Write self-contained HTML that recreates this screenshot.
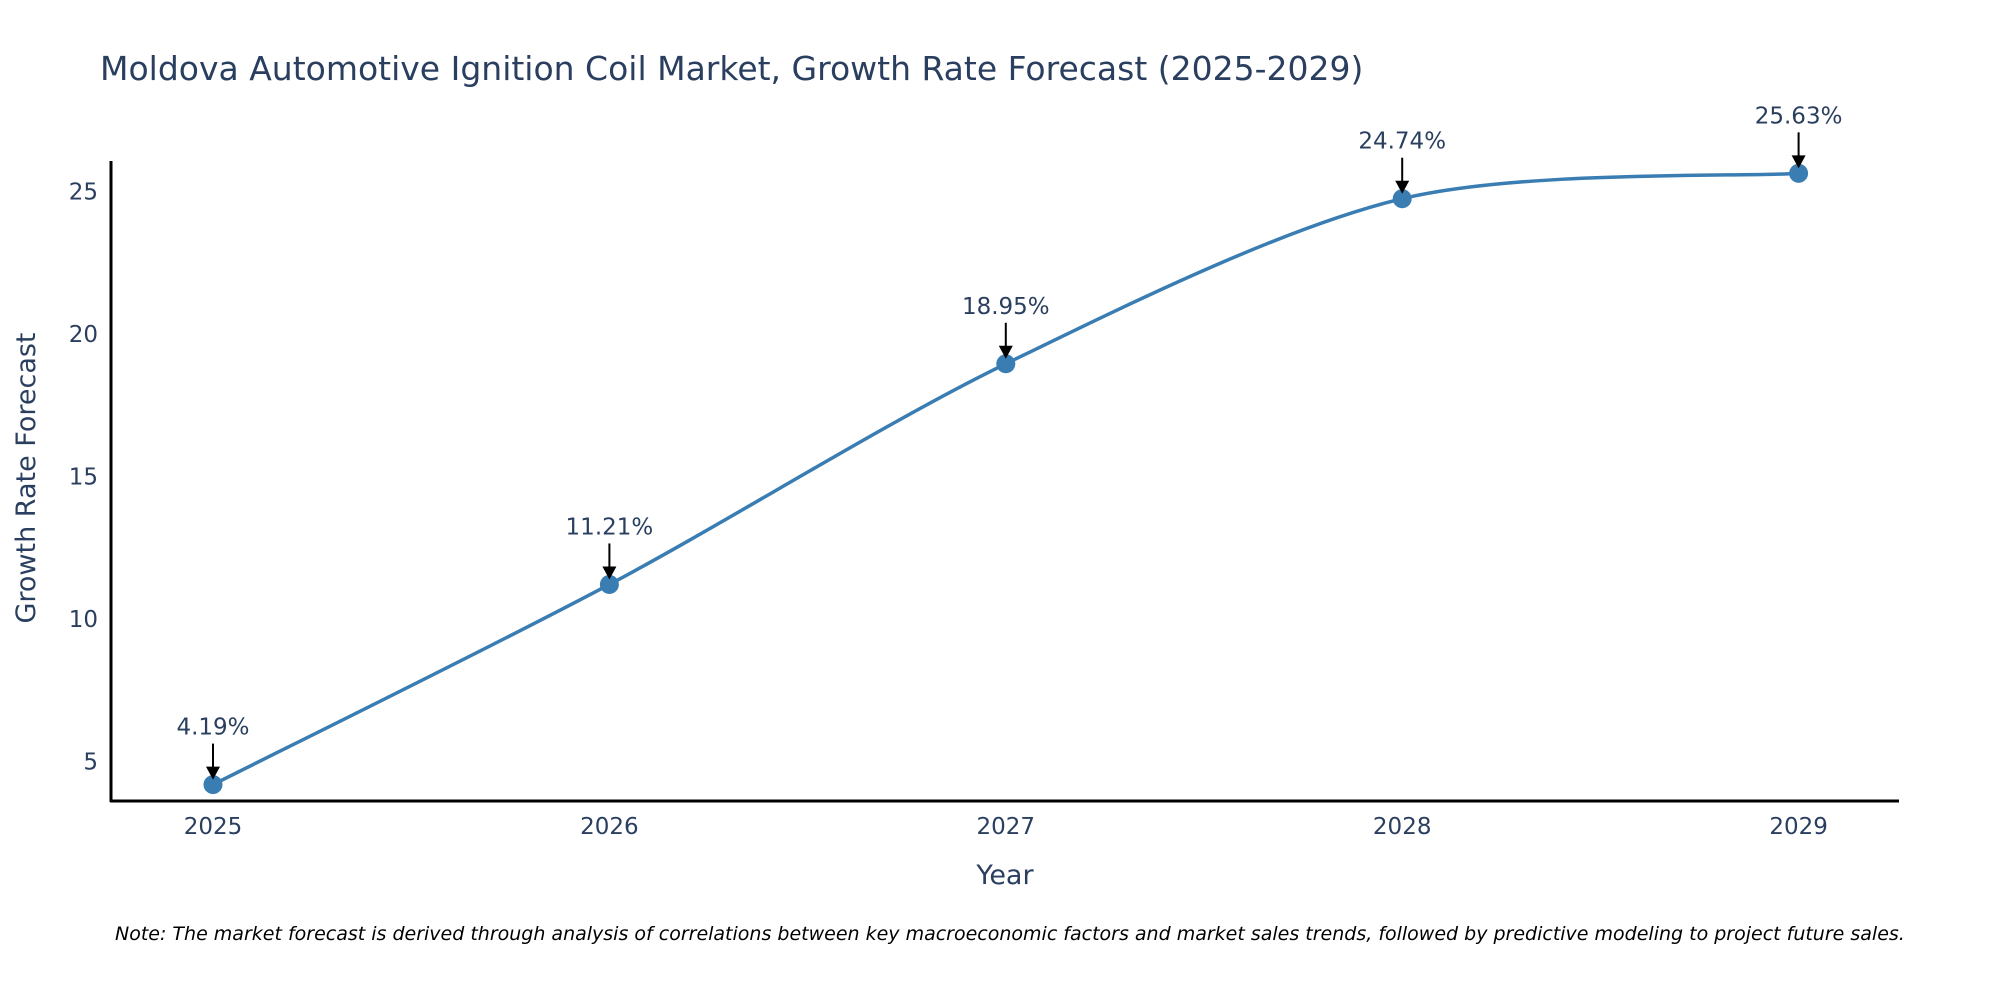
<!DOCTYPE html>
<html><head><meta charset="utf-8"><style>
html,body{margin:0;padding:0;background:#fff;}
svg{display:block;font-family:"DejaVu Sans","Liberation Sans",sans-serif;}
</style></head><body>
<svg id="chart" width="2000" height="1000" viewBox="0 0 2000 1000">
<text x="100" y="80" font-size="33" fill="#2a3f5f">Moldova Automotive Ignition Coil Market, Growth Rate Forecast (2025-2029)</text>
<g id="yticks"></g><g id="xticks"></g>
<line x1="111" y1="161" x2="111" y2="802" stroke="#000" stroke-width="3"/>
<line x1="110" y1="801" x2="1899" y2="801" stroke="#000" stroke-width="3"/>
<path id="line" fill="none" stroke="#3a7db3" stroke-width="3.5"/>
<g id="marks"></g>
<text transform="translate(35,478) rotate(-90)" text-anchor="middle" font-size="27" fill="#2a3f5f">Growth Rate Forecast</text>
<text x="1005" y="884" text-anchor="middle" font-size="27" fill="#2a3f5f">Year</text>
<text x="115" y="940" font-size="19" font-style="italic" fill="#000">Note: The market forecast is derived through analysis of correlations between key macroeconomic factors and market sales trends, followed by predictive modeling to project future sales.</text>
</svg>
<script>
const years = ["2025","2026","2027","2028","2029"];
const values = [4.19, 11.21, 18.95, 24.74, 25.63];
const labels = ["4.19%","11.21%","18.95%","24.74%","25.63%"];
const yTickValues = [5,10,15,20,25];
const NS="http://www.w3.org/2000/svg";
function xs(i){return 213+i*396.4;}
function ys(v){return 761.5-(v-5)*28.51;}
function mk(tag,attrs,parent){const e=document.createElementNS(NS,tag);for(const k in attrs)e.setAttribute(k,attrs[k]);parent.appendChild(e);return e;}
const yt=document.getElementById('yticks'), xt=document.getElementById('xticks'), marks=document.getElementById('marks');
yTickValues.forEach(v=>{
  const t=mk('text',{x:98,y:ys(v)+8,'text-anchor':'end','font-size':23,fill:'#2a3f5f'},yt);
  t.textContent=v;
  
  
});
years.forEach((y,i)=>{
  const t=mk('text',{x:xs(i),y:834,'text-anchor':'middle','font-size':23,fill:'#2a3f5f'},xt);
  t.textContent=y;
  
  
});
const pts=values.map((v,i)=>[xs(i),ys(v)]);
let d='M'+pts[0][0]+','+pts[0][1];
const s=1/6*0.9;
for(let i=0;i<pts.length-1;i++){
  const p0=pts[Math.max(0,i-1)],p1=pts[i],p2=pts[i+1],p3=pts[Math.min(pts.length-1,i+2)];
  const c1=[p1[0]+(p2[0]-p0[0])*s,p1[1]+(p2[1]-p0[1])*s];
  const c2=[p2[0]-(p3[0]-p1[0])*s,p2[1]-(p3[1]-p1[1])*s];
  d+=' C'+c1+' '+c2+' '+p2;
}
document.getElementById('line').setAttribute('d',d);
pts.forEach((p,i)=>{
  const c=mk('circle',{cx:p[0],cy:p[1],r:9.5,fill:'#3a7db3'},marks);
  
  
  const l=mk('line',{x1:p[0],y1:p[1]-41,x2:p[0],y2:p[1]-14,stroke:'#000','stroke-width':2},marks);
  
  
  const a=mk('polygon',{points:(p[0]-7)+','+(p[1]-18)+' '+(p[0]+7)+','+(p[1]-18)+' '+p[0]+','+(p[1]-5),fill:'#000'},marks);
  
  
  const t=mk('text',{x:p[0],y:p[1]-50,'text-anchor':'middle','font-size':23,fill:'#2a3f5f'},marks);
  t.textContent=labels[i];
  
  
});
</script>
</body></html>
